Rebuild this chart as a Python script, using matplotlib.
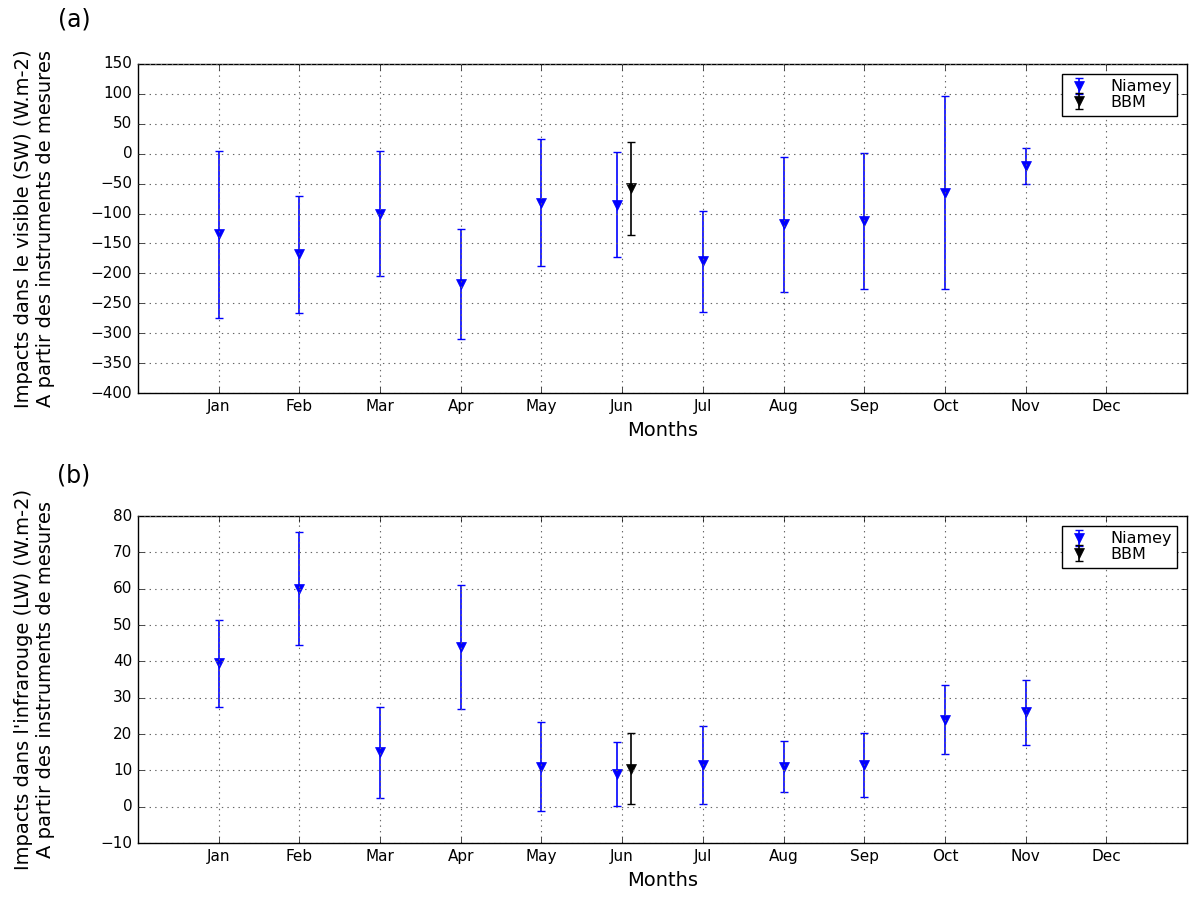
import numpy as np
import matplotlib
matplotlib.use("Agg")
import matplotlib.pyplot as plt

plt.style.use("classic")

# Data

MONTHS = ["Jan", "Feb", "Mar", "Apr", "May", "Jun",
          "Jul", "Aug", "Sep", "Oct", "Nov", "Dec"]

# Niamey, 11 months (Jan..Nov); Jun is slightly shifted left
niamey_x   = [1, 2, 3, 4, 5, 5.93, 7, 8, 9, 10, 11]
bbm_x      = [6.11]

sw_niamey     = [-135, -168, -100, -218, -82, -85, -180, -118, -112, -65, -20]
sw_niamey_err = [140, 98, 104, 92, 106, 88, 85, 113, 114, 161, 30]
sw_bbm        = [-58]
sw_bbm_err    = [78]

lw_niamey     = [39.5, 60, 15, 44, 11, 9, 11.5, 11, 11.5, 24, 26]
lw_niamey_err = [12, 15.5, 12.5, 17, 12.3, 8.7, 10.7, 7, 8.8, 9.5, 9]
lw_bbm        = [10.5]
lw_bbm_err    = [9.8]

SW_YLABEL = "Impacts dans le visible (SW) (W.m-2)\nA partir des instruments de mesures"
LW_YLABEL = "Impacts dans l'infrarouge (LW) (W.m-2)\nA partir des instruments de mesures"


def panel(ax, ny, nerr, by, berr, ylim, yticks, ylabel, tag, tag_y):
    ax.errorbar(niamey_x, ny, yerr=nerr, fmt="v", color="b", ecolor="b",
                markersize=7, elinewidth=1.2, capsize=3, capthick=1,
                markeredgecolor="b", label="Niamey")
    ax.errorbar(bbm_x, by, yerr=berr, fmt="v", color="k", ecolor="k",
                markersize=7, elinewidth=1.2, capsize=3, capthick=1,
                markeredgecolor="k", label="BBM")
    ax.set_xlim(0, 13)
    ax.set_xticks(range(1, 13))
    ax.set_xticklabels(MONTHS, fontsize=11)
    ax.set_ylim(*ylim)
    ax.set_yticks(yticks)
    ax.tick_params(labelsize=11)
    ax.grid(True, linestyle=":", color="0.4", linewidth=0.8)
    ax.set_xlabel("Months", fontsize=14)
    ax.set_ylabel(ylabel, fontsize=14)
    ax.yaxis.set_label_coords(-0.079, 0.5)
    ax.legend(loc="upper right", numpoints=1, fontsize=11.5,
              handlelength=1.5, handletextpad=1.2, borderpad=0.35,
              labelspacing=0.05, borderaxespad=0.6)
    ax.text(-0.061, tag_y, tag, transform=ax.transAxes, fontsize=17,
            ha="center", va="center")


fig = plt.figure(figsize=(11.92, 9), dpi=100, facecolor="white")
ax1 = fig.add_axes([0.1158, 0.5633, 0.880, 0.3656])
ax2 = fig.add_axes([0.1158, 0.0633, 0.880, 0.3633])

panel(ax1, sw_niamey, sw_niamey_err, sw_bbm, sw_bbm_err,
      (-400, 150), np.arange(-400, 151, 50), SW_YLABEL, "(a)", 1.134)
panel(ax2, lw_niamey, lw_niamey_err, lw_bbm, lw_bbm_err,
      (-10, 80), np.arange(-10, 81, 10), LW_YLABEL, "(b)", 1.125)

fig.savefig("out.png", dpi=100, facecolor="white")
